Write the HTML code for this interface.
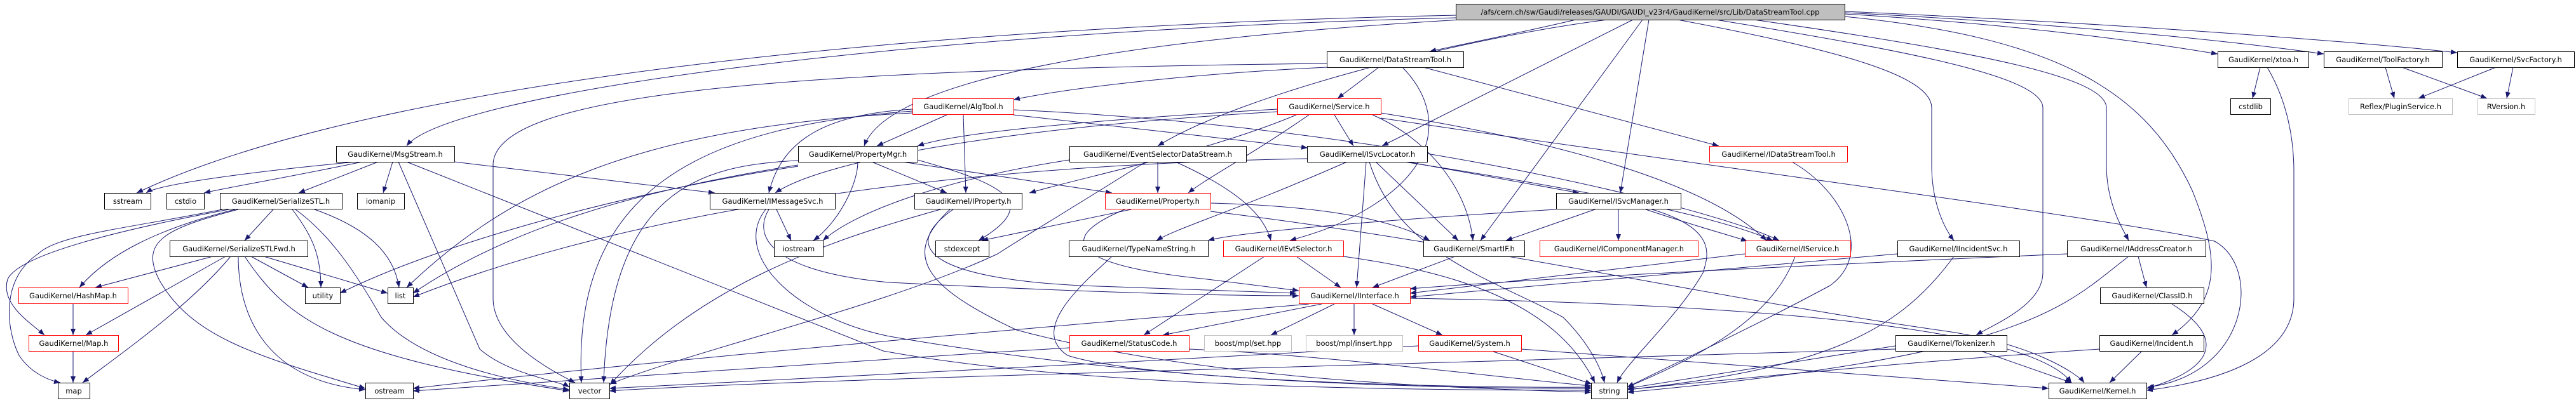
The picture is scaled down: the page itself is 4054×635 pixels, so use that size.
<!DOCTYPE html>
<html><head><meta charset="utf-8"><style>
html,body{margin:0;padding:0;background:#fff;}
svg{display:block;}
text{font-family:"DejaVu Sans","Liberation Sans",sans-serif;font-size:11.5px;fill:#000;}
.e{fill:none;stroke:#191970;stroke-width:1;marker-end:url(#a);}
.n{fill:#fff;stroke:#000;stroke-width:1;}
.r{fill:#fff;stroke:#ff0000;stroke-width:1;}
.g{fill:#fff;stroke:#bfbfbf;stroke-width:1;}
</style></head><body>
<svg width="4054" height="635" viewBox="0 0 4054 635" xmlns="http://www.w3.org/2000/svg">
<defs><marker id="a" markerUnits="userSpaceOnUse" markerWidth="10" markerHeight="8" refX="10" refY="4" orient="auto"><path d="M0,0 L10,4 L0,8 z" fill="#191970"/></marker></defs>
<rect width="4054" height="635" fill="#fff"/>
<g>
<path class="e" d="M2291 24 C1500 40 600 120 215 304"/>
<path class="e" d="M2291 28 C1400 50 700 150 640 230"/>
<path class="e" d="M2300 31 C1800 60 1400 120 1360 230"/>
<path class="e" d="M2088 100 C1200 110 776 150 776 260 L776 470 C776 540 880 590 905 603"/>
<path class="e" d="M2480 31 C2400 50 2300 70 2250 81"/>
<path class="e" d="M2530 31 C2300 60 1950 150 1822 230"/>
<path class="e" d="M2570 31 L2175 230"/>
<path class="e" d="M2585 31 L2330 379"/>
<path class="e" d="M2595 31 L2550 304"/>
<path class="e" d="M2640 31 C2900 80 3040 120 3040 170 L3040 260 C3040 320 3060 360 3075 379"/>
<path class="e" d="M2700 31 C3000 80 3215 120 3215 170 L3215 430 C3215 480 3140 510 3110 528"/>
<path class="e" d="M2760 31 C3100 80 3315 120 3315 170 L3315 260 C3315 320 3340 360 3350 379"/>
<path class="e" d="M2903 26 C3250 60 3380 150 3450 300 C3490 400 3500 470 3418 528"/>
<path class="e" d="M2903 22 C3200 40 3400 70 3490 85"/>
<path class="e" d="M2903 20 C3300 40 3550 70 3657 85"/>
<path class="e" d="M2903 18 C3400 40 3750 70 3867 83"/>
<path class="e" d="M2170 106 L2105 155"/>
<path class="e" d="M2088 106 C1900 115 1700 135 1595 157"/>
<path class="e" d="M2240 106 L2705 230"/>
<path class="e" d="M2207 106 C2270 170 2270 260 2150 330 C2100 360 2060 370 2030 379"/>
<path class="e" d="M2100 181 L2130 230"/>
<path class="e" d="M2010 172 C1700 190 1500 210 1444 230"/>
<path class="e" d="M2040 181 C1900 240 1700 280 1620 304"/>
<path class="e" d="M2060 181 C1960 250 1900 280 1870 304"/>
<path class="e" d="M2160 181 C2250 220 2310 300 2318 379"/>
<path class="e" d="M2173 178 C2500 230 2700 300 2780 379"/>
<path class="e" d="M2010 176 C1600 200 1300 250 1220 304"/>
<path class="e" d="M2173 186 C2600 250 3300 340 3485 380 C3560 420 3540 590 3380 610"/>
<path class="e" d="M1490 181 L1380 230"/>
<path class="e" d="M1516 181 L1520 304"/>
<path class="e" d="M1436 172 C1300 180 1230 220 1210 304"/>
<path class="e" d="M1595 181 L2058 233"/>
<path class="e" d="M1595 173 C2200 200 2700 330 2800 379"/>
<path class="e" d="M1436 178 C1000 200 800 300 640 453"/>
<path class="e" d="M1436 175 C1100 200 900 300 915 603"/>
<path class="e" d="M560 255 C400 270 250 290 230 304"/>
<path class="e" d="M570 255 C450 280 360 295 321 304"/>
<path class="e" d="M595 255 L470 304"/>
<path class="e" d="M618 255 L603 304"/>
<path class="e" d="M715 255 L1125 304"/>
<path class="e" d="M627 255 L755 550 C800 590 880 600 896 610"/>
<path class="e" d="M640 255 L1390 553 C1700 610 2200 615 2504 615"/>
<path class="e" d="M370 330 C250 360 170 400 125 453"/>
<path class="e" d="M430 330 L385 379"/>
<path class="e" d="M360 330 C200 360 30 400 12 440 C0 480 50 510 70 528"/>
<path class="e" d="M350 330 C200 360 90 370 60 400 C0 440 10 520 30 560 C50 590 80 600 95 603"/>
<path class="e" d="M375 330 C260 360 220 380 250 440 C300 530 400 560 575 612"/>
<path class="e" d="M460 330 C490 370 505 400 505 453"/>
<path class="e" d="M495 330 C580 360 620 400 628 453"/>
<path class="e" d="M465 330 C520 370 560 430 600 500 C660 570 800 600 896 614"/>
<path class="e" d="M335 404 L150 453"/>
<path class="e" d="M355 404 L135 528"/>
<path class="e" d="M363 404 C300 480 200 550 130 603"/>
<path class="e" d="M375 404 C375 500 420 600 575 614"/>
<path class="e" d="M395 404 L485 453"/>
<path class="e" d="M415 404 L610 462"/>
<path class="e" d="M385 404 C450 500 520 560 896 616"/>
<path class="e" d="M115 479 L115 528"/>
<path class="e" d="M115 554 L115 603"/>
<path class="e" d="M1372 255 L1490 304"/>
<path class="e" d="M1420 255 L1750 304"/>
<path class="e" d="M1350 255 C1350 290 1320 350 1280 379"/>
<path class="e" d="M1444 252 C1580 290 1640 320 1540 379"/>
<path class="e" d="M1256 253 C1100 260 960 300 950 603"/>
<path class="e" d="M1256 260 C1000 300 800 360 650 462"/>
<path class="e" d="M1256 262 C1000 300 700 380 535 462"/>
<path class="e" d="M1222 330 L1245 379"/>
<path class="e" d="M1210 330 C1180 380 1230 430 1400 445 C1700 460 1900 466 2044 466"/>
<path class="e" d="M1205 330 C1150 400 1250 500 1400 530 C1800 600 2200 612 2504 612"/>
<path class="e" d="M1822 255 L1822 304"/>
<path class="e" d="M1850 255 C1950 300 1990 340 2000 379"/>
<path class="e" d="M1803 255 C1700 320 1600 380 1570 400 C1400 480 1100 550 960 605"/>
<path class="e" d="M1683 252 C1500 280 1350 330 1295 379"/>
<path class="e" d="M2215 255 L2485 304"/>
<path class="e" d="M2165 255 L2295 379"/>
<path class="e" d="M2150 255 L2135 453"/>
<path class="e" d="M2155 255 C2200 400 2350 440 2460 500 C2500 540 2520 580 2525 603"/>
<path class="e" d="M2120 255 C1950 330 1850 360 1820 379"/>
<path class="e" d="M2057 250 C1500 260 1000 330 650 468"/>
<path class="e" d="M2210 255 C2500 300 2700 340 2790 379"/>
<path class="e" d="M2820 255 C2900 300 2950 400 2880 450 C2750 520 2620 580 2561 610"/>
<path class="e" d="M1500 330 C1400 400 1500 440 1700 450 L2040 462"/>
<path class="e" d="M1495 330 C1420 400 1450 450 1600 520 C1900 600 2300 612 2504 618"/>
<path class="e" d="M1480 330 C1300 380 1100 450 960 606"/>
<path class="e" d="M1780 330 L1545 379"/>
<path class="e" d="M1905 320 C2100 325 2200 350 2250 379"/>
<path class="e" d="M1770 330 C1650 380 1700 420 1900 440 L2044 458"/>
<path class="e" d="M1905 333 C2300 380 2700 470 3050 520 C3200 540 3270 590 3280 603"/>
<path class="e" d="M2510 330 L2370 379"/>
<path class="e" d="M2547 330 L2547 379"/>
<path class="e" d="M2600 330 C2700 360 2690 400 2680 430 C2640 500 2560 570 2545 603"/>
<path class="e" d="M2449 330 C2200 345 1950 365 1901 379"/>
<path class="e" d="M2590 330 C2680 360 2720 370 2750 380"/>
<path class="e" d="M1750 404 C1700 450 1620 520 1680 560 C1800 600 2300 612 2504 610"/>
<path class="e" d="M2040 404 L2110 453"/>
<path class="e" d="M1990 404 L1800 528"/>
<path class="e" d="M2114 404 C2300 430 2450 480 2510 603"/>
<path class="e" d="M2290 404 L2160 453"/>
<path class="e" d="M2746 400 L2219 462"/>
<path class="e" d="M2825 404 C2790 500 2680 560 2561 610"/>
<path class="e" d="M2986 400 L2219 468"/>
<path class="e" d="M3075 404 C2990 520 2880 580 2561 614"/>
<path class="e" d="M3253 400 C2800 420 2400 440 2219 455"/>
<path class="e" d="M3365 404 L3378 453"/>
<path class="e" d="M3350 404 C3250 480 3200 560 2561 618"/>
<path class="e" d="M3418 479 C3500 530 3490 580 3378 612"/>
<path class="e" d="M2080 479 L1830 528"/>
<path class="e" d="M2100 479 L2000 528"/>
<path class="e" d="M2131 479 L2131 528"/>
<path class="e" d="M2160 479 L2270 528"/>
<path class="e" d="M2219 470 C2800 480 3200 520 3260 603"/>
<path class="e" d="M2060 479 C1600 520 1100 560 650 612"/>
<path class="e" d="M1683 548 C1300 570 900 600 650 616"/>
<path class="e" d="M1871 550 C2100 560 2400 600 2504 608"/>
<path class="e" d="M2350 554 L2505 605"/>
<path class="e" d="M2232 545 C1800 570 1200 600 959 612"/>
<path class="e" d="M2394 550 L3224 612"/>
<path class="e" d="M2983 545 L2561 612"/>
<path class="e" d="M2983 550 C2000 580 1200 600 959 616"/>
<path class="e" d="M3120 554 L3260 603"/>
<path class="e" d="M3370 554 L3320 603"/>
<path class="e" d="M3304 550 C3000 570 2700 600 2561 614"/>
<path class="e" d="M3557 106 L3545 155"/>
<path class="e" d="M3568 106 C3600 160 3610 220 3610 270 L3610 470 C3610 560 3500 600 3378 615"/>
<path class="e" d="M3754 106 L3768 155"/>
<path class="e" d="M3780 106 L3914 155"/>
<path class="e" d="M3928 106 L3806 155"/>
<path class="e" d="M3955 106 L3945 155"/>
</g>
<g text-anchor="middle">
<rect x="2291.5" y="6.5" width="612" height="25" fill="#bfbfbf" stroke="#000"/><text x="2597" y="23">/afs/cern.ch/sw/Gaudi/releases/GAUDI/GAUDI_v23r4/GaudiKernel/src/Lib/DataStreamTool.cpp</text>
<rect class="n" x="2088.5" y="81.5" width="215" height="25"/><text x="2196" y="98">GaudiKernel/DataStreamTool.h</text>
<rect class="n" x="3490.5" y="81.5" width="143" height="25"/><text x="3562" y="98">GaudiKernel/xtoa.h</text>
<rect class="n" x="3657.5" y="81.5" width="186" height="25"/><text x="3750" y="98">GaudiKernel/ToolFactory.h</text>
<rect class="n" x="3867.5" y="81.5" width="184" height="25"/><text x="3959" y="98">GaudiKernel/SvcFactory.h</text>
<rect class="r" x="1436.5" y="155.5" width="159" height="25"/><text x="1516" y="172">GaudiKernel/AlgTool.h</text>
<rect class="r" x="2010.5" y="155.5" width="163" height="25"/><text x="2092" y="172">GaudiKernel/Service.h</text>
<rect class="n" x="3510.5" y="155.5" width="63" height="25"/><text x="3542" y="172">cstdlib</text>
<rect class="g" x="3696.5" y="155.5" width="163" height="25"/><text x="3778" y="172">Reflex/PluginService.h</text>
<rect class="g" x="3899.5" y="155.5" width="90" height="25"/><text x="3944" y="172">RVersion.h</text>
<rect class="n" x="529.5" y="230.5" width="186" height="25"/><text x="622" y="247">GaudiKernel/MsgStream.h</text>
<rect class="n" x="1256.5" y="230.5" width="188" height="25"/><text x="1350" y="247">GaudiKernel/PropertyMgr.h</text>
<rect class="n" x="1683.5" y="230.5" width="278" height="25"/><text x="1822" y="247">GaudiKernel/EventSelectorDataStream.h</text>
<rect class="n" x="2057.5" y="230.5" width="189" height="25"/><text x="2152" y="247">GaudiKernel/ISvcLocator.h</text>
<rect class="r" x="2690.5" y="230.5" width="217" height="25"/><text x="2799" y="247">GaudiKernel/IDataStreamTool.h</text>
<rect class="n" x="164.5" y="304.5" width="73" height="25"/><text x="201" y="321">sstream</text>
<rect class="n" x="262.5" y="304.5" width="59" height="25"/><text x="292" y="321">cstdio</text>
<rect class="n" x="346.5" y="304.5" width="192" height="25"/><text x="442" y="321">GaudiKernel/SerializeSTL.h</text>
<rect class="n" x="562.5" y="304.5" width="74" height="25"/><text x="599" y="321">iomanip</text>
<rect class="n" x="1117.5" y="304.5" width="197" height="25"/><text x="1216" y="321">GaudiKernel/IMessageSvc.h</text>
<rect class="n" x="1439.5" y="304.5" width="169" height="25"/><text x="1524" y="321">GaudiKernel/IProperty.h</text>
<rect class="r" x="1739.5" y="304.5" width="166" height="25"/><text x="1822" y="321">GaudiKernel/Property.h</text>
<rect class="n" x="2449.5" y="304.5" width="196" height="25"/><text x="2547" y="321">GaudiKernel/ISvcManager.h</text>
<rect class="n" x="267.5" y="379.5" width="217" height="25"/><text x="376" y="396">GaudiKernel/SerializeSTLFwd.h</text>
<rect class="n" x="1218.5" y="379.5" width="77" height="25"/><text x="1257" y="396">iostream</text>
<rect class="n" x="1472.5" y="379.5" width="84" height="25"/><text x="1514" y="396">stdexcept</text>
<rect class="n" x="1682.5" y="379.5" width="219" height="25"/><text x="1792" y="396">GaudiKernel/TypeNameString.h</text>
<rect class="r" x="1925.5" y="379.5" width="189" height="25"/><text x="2020" y="396">GaudiKernel/IEvtSelector.h</text>
<rect class="n" x="2240.5" y="379.5" width="159" height="25"/><text x="2320" y="396">GaudiKernel/SmartIF.h</text>
<rect class="r" x="2423.5" y="379.5" width="249" height="25"/><text x="2548" y="396">GaudiKernel/IComponentManager.h</text>
<rect class="r" x="2746.5" y="379.5" width="166" height="25"/><text x="2829" y="396">GaudiKernel/IService.h</text>
<rect class="n" x="2986.5" y="379.5" width="192" height="25"/><text x="3082" y="396">GaudiKernel/IIncidentSvc.h</text>
<rect class="n" x="3253.5" y="379.5" width="218" height="25"/><text x="3362" y="396">GaudiKernel/IAddressCreator.h</text>
<rect class="r" x="29.5" y="453.5" width="172" height="25"/><text x="115" y="470">GaudiKernel/HashMap.h</text>
<rect class="n" x="480.5" y="453.5" width="55" height="25"/><text x="508" y="470">utility</text>
<rect class="n" x="610.5" y="453.5" width="40" height="25"/><text x="630" y="470">list</text>
<rect class="r" x="2044.5" y="453.5" width="175" height="25"/><text x="2132" y="470">GaudiKernel/IInterface.h</text>
<rect class="n" x="3305.5" y="453.5" width="163" height="25"/><text x="3387" y="470">GaudiKernel/ClassID.h</text>
<rect class="r" x="45.5" y="528.5" width="141" height="25"/><text x="116" y="545">GaudiKernel/Map.h</text>
<rect class="r" x="1683.5" y="528.5" width="188" height="25"/><text x="1777" y="545">GaudiKernel/StatusCode.h</text>
<rect class="g" x="1895.5" y="528.5" width="137" height="25"/><text x="1964" y="545">boost/mpl/set.hpp</text>
<rect class="g" x="2055.5" y="528.5" width="152" height="25"/><text x="2131" y="545">boost/mpl/insert.hpp</text>
<rect class="r" x="2232.5" y="528.5" width="162" height="25"/><text x="2313" y="545">GaudiKernel/System.h</text>
<rect class="n" x="2983.5" y="528.5" width="175" height="25"/><text x="3071" y="545">GaudiKernel/Tokenizer.h</text>
<rect class="n" x="3304.5" y="528.5" width="164" height="25"/><text x="3386" y="545">GaudiKernel/Incident.h</text>
<rect class="n" x="91.5" y="603.5" width="50" height="25"/><text x="116" y="620">map</text>
<rect class="n" x="575.5" y="603.5" width="75" height="25"/><text x="613" y="620">ostream</text>
<rect class="n" x="896.5" y="603.5" width="63" height="25"/><text x="928" y="620">vector</text>
<rect class="n" x="2504.5" y="603.5" width="57" height="25"/><text x="2533" y="620">string</text>
<rect class="n" x="3224.5" y="603.5" width="154" height="25"/><text x="3301" y="620">GaudiKernel/Kernel.h</text>
</g>
</svg>
</body></html>
